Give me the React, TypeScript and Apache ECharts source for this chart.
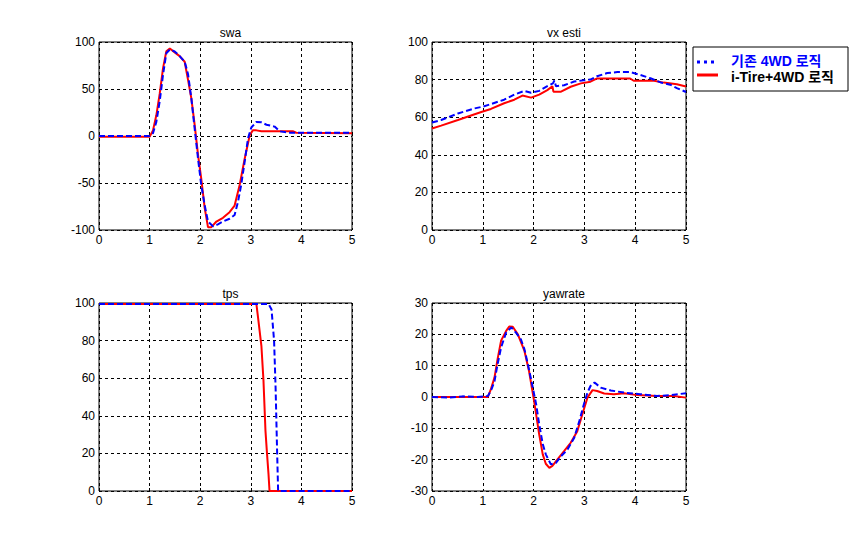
import React, { useEffect, useRef } from "react";
import * as echarts from "echarts";

// ---- data ----
const seriesNames = ["기존 4WD 로직", "i-Tire+4WD 로직"];
const panelTitles = ["swa", "vx esti", "tps", "yawrate"];
const xTicks = [0, 1, 2, 3, 4, 5];

const swaBlueT = [0, 1.0, 1.067, 1.133, 1.2, 1.265, 1.33, 1.4, 1.495, 1.594, 1.693, 1.759, 1.825, 1.89, 1.957, 2.02, 2.09, 2.154, 2.253, 2.35, 2.45, 2.58, 2.68, 2.747, 2.81, 2.88, 2.945, 3.01, 3.11, 3.21, 3.31, 3.47, 3.57, 3.77, 5];
const swaBlueV = [0, 0, 3, 15, 37, 65, 88, 92, 90, 85, 79, 66, 40, 8, -24, -52, -74, -91, -96, -94, -91, -88, -84, -70, -52, -27, -2.5, 9, 15, 14.5, 12, 10, 5, 3.5, 3.5];
const swaRedT = [0, 1.0, 1.067, 1.133, 1.2, 1.265, 1.33, 1.4, 1.495, 1.594, 1.693, 1.759, 1.825, 1.89, 1.957, 2.02, 2.09, 2.154, 2.22, 2.32, 2.45, 2.58, 2.68, 2.78, 2.88, 2.98, 3.04, 3.11, 3.21, 3.83, 3.9, 5];
const swaRedV = [-0.7, -0.7, 6, 22, 45, 72, 90, 93, 89, 85, 79, 60, 40, 12, -20, -45, -77, -97, -97, -91, -87, -81, -74, -52, -24, 1, 6, 6, 5, 5, 3.5, 3];

const vxBlueT = [0, 0.18, 0.51, 0.84, 1.0, 1.16, 1.42, 1.62, 1.82, 1.95, 2.11, 2.27, 2.38, 2.41, 2.44, 2.6, 2.8, 2.99, 3.12, 3.25, 3.45, 3.65, 3.9, 4.1, 4.3, 4.5, 4.69, 4.82, 5];
const vxBlueV = [57.2, 58.5, 62, 64.7, 65.6, 67, 69.3, 72, 74, 73, 74, 76.5, 78, 79.5, 76.5, 77, 79, 79.6, 80, 81.8, 83.5, 84, 84, 82.5, 80.7, 78.5, 77.3, 75.5, 73.4];
const vxRedT = [0, 0.18, 0.51, 0.84, 1.0, 1.16, 1.42, 1.62, 1.78, 1.95, 2.11, 2.27, 2.37, 2.39, 2.54, 2.73, 2.93, 3.12, 3.25, 3.9, 3.97, 4.37, 4.56, 4.82, 5];
const vxRedV = [54, 55.5, 58.5, 61.6, 63, 64.4, 67.4, 69.3, 71.5, 70.4, 72, 74.4, 76.5, 73.6, 73.6, 76.2, 78, 78.9, 80.6, 80.6, 79.4, 79.4, 78.4, 77.5, 76.3];

const tpsBlueT = [0, 3.35, 3.41, 3.46, 3.49, 3.52, 3.54, 5];
const tpsBlueV = [99.5, 99.5, 96.5, 80, 55, 21, 0, 0];
const tpsRedT = [0, 3.11, 3.14, 3.21, 3.25, 3.29, 3.32, 3.35, 3.37, 5];
const tpsRedV = [99.5, 99.5, 93, 77, 59, 32, 20, 9, 0, 0];

const yawBlueT = [0, 0.3, 0.6, 0.9, 1.1, 1.16, 1.23, 1.29, 1.36, 1.46, 1.56, 1.65, 1.75, 1.82, 1.88, 1.95, 2.05, 2.11, 2.18, 2.24, 2.34, 2.44, 2.54, 2.67, 2.8, 2.9, 2.99, 3.06, 3.12, 3.2, 3.32, 3.52, 3.78, 4.1, 4.43, 4.69, 5];
const yawBlueV = [0, -0.2, 0.2, 0, 0.3, 2, 5, 10.4, 15.8, 20.6, 22.2, 20.6, 18.4, 15.2, 11, 5.7, -2.3, -8.7, -15, -18.3, -21.5, -21, -18.9, -16.7, -13, -7.7, -2.3, 1.4, 3.5, 4.6, 3, 2.1, 1.4, 0.9, 0.3, 0.6, 1.2];
const yawRedT = [0, 1.1, 1.16, 1.23, 1.29, 1.36, 1.46, 1.52, 1.59, 1.69, 1.82, 1.91, 2.01, 2.11, 2.18, 2.24, 2.31, 2.37, 2.47, 2.6, 2.73, 2.86, 2.96, 3.06, 3.16, 3.25, 3.39, 3.58, 3.78, 4.04, 4.43, 4.76, 5];
const yawRedV = [0, 0, 2.5, 6.2, 12, 18, 21.1, 22.5, 22.4, 20, 14.7, 8.3, -1.3, -11.9, -18.3, -21.3, -22.6, -22, -19.9, -17.3, -14.6, -10.9, -5.5, -0.2, 2.2, 1.9, 1.1, 0.9, 1.2, 0.6, 0.3, 0.3, -0.2];

const yRanges = [
  { min: -100, max: 100, interval: 50 },
  { min: 0, max: 100, interval: 20 },
  { min: 0, max: 100, interval: 20 },
  { min: -30, max: 30, interval: 10 },
];

const zip = (t: number[], v: number[]) => t.map((x, i) => [x, v[i]]);

const panels = [
  { blue: zip(swaBlueT, swaBlueV), red: zip(swaRedT, swaRedV) },
  { blue: zip(vxBlueT, vxBlueV), red: zip(vxRedT, vxRedV) },
  { blue: zip(tpsBlueT, tpsBlueV), red: zip(tpsRedT, tpsRedV) },
  { blue: zip(yawBlueT, yawBlueV), red: zip(yawRedT, yawRedV) },
];

const gridPos = [
  { left: 99, top: 42, width: 253, height: 188 },
  { left: 432, top: 42, width: 254, height: 188 },
  { left: 99, top: 303, width: 253, height: 188 },
  { left: 432, top: 303, width: 254, height: 188 },
];

const FONT = "'Liberation Sans', Arial, sans-serif";
const LEGEND_FONT = "bold 14px 'Liberation Sans', 'Noto Sans CJK KR', sans-serif";

export default function App() {
  const ref = useRef<HTMLDivElement>(null);
  useEffect(() => {
    if (!ref.current) return;
    const chart = echarts.init(ref.current, null, { renderer: "svg" });
    const grids = gridPos.map((g) => ({
      ...g,
      show: true,
      borderColor: "#000",
      borderWidth: 1,
      backgroundColor: "#fff",
      containLabel: false,
    }));
    const xAxes = gridPos.map((_, i) => ({
      type: "value",
      gridIndex: i,
      min: xTicks[0],
      max: xTicks[xTicks.length - 1],
      interval: 1,
      axisLine: { show: false },
      axisTick: { show: true, inside: true, length: 3, lineStyle: { color: "#000" } },
      axisLabel: { color: "#000", fontSize: 12, fontFamily: FONT, margin: 4 },
      splitLine: { show: true, lineStyle: { color: "#000", type: [3, 3], width: 1 } },
    }));
    const yAxes = gridPos.map((_, i) => ({
      type: "value",
      gridIndex: i,
      ...yRanges[i],
      axisLine: { show: false },
      axisTick: { show: true, inside: true, length: 3, lineStyle: { color: "#000" } },
      axisLabel: { color: "#000", fontSize: 12, fontFamily: FONT, margin: 4 },
      splitLine: { show: true, lineStyle: { color: "#000", type: [3, 3], width: 1 } },
    }));
    const series: any[] = [];
    panels.forEach((p, i) => {
      series.push({
        type: "line",
        name: seriesNames[0],
        xAxisIndex: i,
        yAxisIndex: i,
        data: p.blue,
        showSymbol: false,
        lineStyle: { color: "#0000ff", width: 2, type: [6, 3] },
        z: 3,
      });
      series.push({
        type: "line",
        name: seriesNames[1],
        xAxisIndex: i,
        yAxisIndex: i,
        data: p.red,
        showSymbol: false,
        lineStyle: { color: "#ff0000", width: 2, type: "solid" },
        z: 2,
      });
    });
    const titles = gridPos.map((g, i) => ({
      text: panelTitles[i],
      left: g.left + g.width / 2,
      top: g.top - 20,
      textAlign: "center",
      textStyle: { color: "#000", fontSize: 12, fontWeight: "normal", fontFamily: FONT },
    }));
    chart.setOption({
      animation: false,
      backgroundColor: "#fff",
      title: titles,
      grid: grids,
      xAxis: xAxes,
      yAxis: yAxes,
      series,
      graphic: [
        {
          type: "rect",
          shape: { x: 693, y: 47, width: 155, height: 44 },
          style: { fill: "#fff", stroke: "#000", lineWidth: 1 },
        },
        {
          type: "line",
          shape: { x1: 697, y1: 62, x2: 718, y2: 62 },
          style: { stroke: "#0000ff", lineWidth: 3, lineDash: [3, 4] },
        },
        {
          type: "line",
          shape: { x1: 697, y1: 75, x2: 718, y2: 75 },
          style: { stroke: "#ff0000", lineWidth: 3 },
        },
        {
          type: "text",
          x: 731,
          y: 60.5,
          style: { text: seriesNames[0], fill: "#0000ff", font: LEGEND_FONT, verticalAlign: "middle" },
        },
        {
          type: "text",
          x: 731,
          y: 77,
          style: { text: seriesNames[1], fill: "#000", font: LEGEND_FONT, verticalAlign: "middle" },
        },
      ],
    });
    return () => chart.dispose();
  }, []);
  return (
    <div
      ref={ref}
      style={{ position: "absolute", left: 0, top: 0, width: 849, height: 552, background: "#fff" }}
    />
  );
}
